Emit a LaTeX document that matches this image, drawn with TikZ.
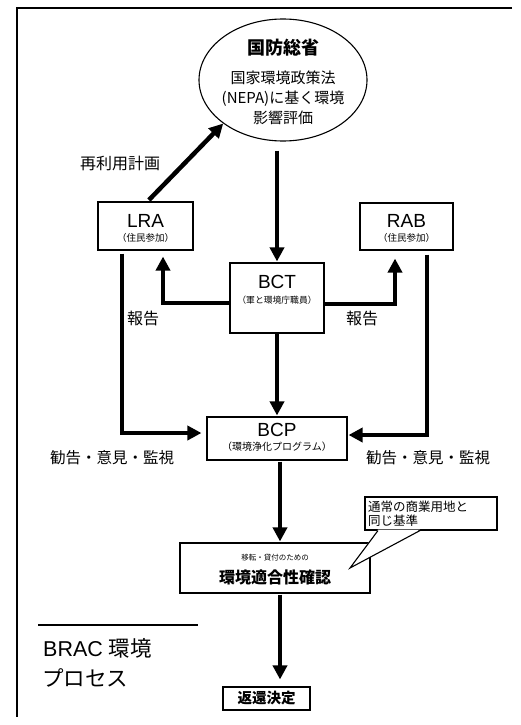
\documentclass[tikz,border=0pt]{standalone}
\usepackage{fontspec}
\setmainfont{Liberation Sans}
\newfontfamily\jp{Noto Sans CJK JP}
\usetikzlibrary{arrows.meta,shapes.geometric}
\tikzset{
  box/.style={draw, line width=1.1pt, inner sep=0pt, align=center},
  arr/.style={line width=4.5pt, -{Triangle[length=14pt,width=14pt]}},
  lbl/.style={font=\jp\fontsize{15.5}{18}\selectfont, inner sep=0pt},
  fsz/.style={font=\fontsize{#1}{#1}\selectfont},
}
\begin{document}
\begin{tikzpicture}[x=1pt,y=-1pt]
\useasboundingbox (0,0) rectangle (520,725);
% frame
\draw[line width=1.2pt] (512,8) -- (17,8) -- (17,717);

% nodes
\node[ellipse, draw, line width=1.1pt, minimum width=168pt, minimum height=122pt, inner sep=0pt] (dod) at (283,80) {};
\node[inner sep=0pt, font=\jp\bfseries\fontsize{18}{18}\selectfont] (dodt) at (283,48) {国防総省};
\node[inner sep=0pt, align=center, font=\jp\fontsize{15}{20}\selectfont] (dodd) at (283,98) {国家環境政策法\\(NEPA)に基く環境\\影響評価};

\node[box, minimum width=95pt, minimum height=48pt] (lra) at (145.5,226) {};
\node[inner sep=0pt, fsz=19] (lrat) at (145.5,221) {LRA};
\node[inner sep=0pt, font=\jp\fontsize{9.5}{9.5}\selectfont] (lras) at (145.5,238) {（住民参加）};

\node[box, minimum width=93pt, minimum height=47pt] (rab) at (406.5,226.5) {};
\node[inner sep=0pt, fsz=19] (rabt) at (406.5,221) {RAB};
\node[inner sep=0pt, font=\jp\fontsize{9.5}{9.5}\selectfont] (rabs) at (406.5,238) {（住民参加）};

\node[box, minimum width=94pt, minimum height=70pt] (bct) at (277,298) {};
\node[inner sep=0pt, fsz=19] (bctt) at (277,282) {BCT};
\node[inner sep=0pt, font=\jp\fontsize{8.8}{8.8}\selectfont] (bcts) at (277,300) {（軍と環境庁職員）};

\node[box, minimum width=140pt, minimum height=43pt] (bcp) at (277,438.5) {};
\node[inner sep=0pt, fsz=19] (bcpt) at (277,430) {BCP};
\node[inner sep=0pt, font=\jp\fontsize{10}{10}\selectfont] (bcps) at (277,447) {（環境浄化プログラム）};

\node[box, minimum width=190pt, minimum height=50pt] (cert) at (275,568) {};
\node[inner sep=0pt, font=\jp\fontsize{7.5}{7.5}\selectfont] (certs) at (275,558) {移転・貸付のための};
\node[inner sep=0pt, font=\jp\bfseries\fontsize{16}{16}\selectfont] (certt) at (275,577) {環境適合性確認};

\node[box, minimum width=87pt, minimum height=23pt, font=\jp\bfseries\fontsize{14.5}{14.5}\selectfont] (ret) at (266.5,698.5) {返還決定};

% callout
\node[box, minimum width=132pt, minimum height=33pt] (call) at (431,513.5) {};
\node[inner sep=0pt, anchor=west, align=left, font=\jp\fontsize{12.5}{14}\selectfont] (callt) at (368,514) {通常の商業用地と\\同じ基準};
\coordinate (tip) at (350,568);
\fill[white] ([xshift=-53pt,yshift=1pt]call.south) -- (tip) -- ([xshift=-11pt,yshift=1pt]call.south) -- cycle;
\draw[line width=1.1pt] ([xshift=-53pt]call.south) -- (tip) -- ([xshift=-11pt]call.south);

% labels
\node[lbl, font=\jp\fontsize{16}{16}\selectfont] (reuse) at (120,163) {再利用計画};
\node[lbl, font=\jp\fontsize{16}{16}\selectfont] (repl) at (143,318) {報告};
\node[lbl, font=\jp\fontsize{16}{16}\selectfont] (repr) at (362,318) {報告};
\node[lbl] (advl) at (112,458) {勧告・意見・監視};
\node[lbl] (advr) at (428,458) {勧告・意見・監視};

% BRAC title
\coordinate (rl) at (38,625);
\coordinate (rr) at (198,625);
\draw[line width=1.3pt] (rl) -- (rr);
\node[inner sep=0pt, anchor=west, fsz=21.5] (brac) at (43,648) {BRAC {\jp 環境}};
\node[inner sep=0pt, anchor=west, font=\jp\fontsize{21.5}{21.5}\selectfont] (proc) at (42,678) {プロセス};

% connectors
\draw[arr, shorten <=9pt, shorten >=1pt] (dod.south -| bct.north) -- (bct.north);
\draw[arr, shorten <=2pt] ([xshift=2pt]lra.north) -- (dod.south west);
\draw[arr, shorten >=6pt] ([yshift=-5pt]bct.west) -| ([xshift=17.5pt]lra.south);
\draw[arr, shorten >=8pt] ([yshift=-6pt]bct.east) -| ([xshift=-11.5pt]rab.south);
\draw[arr, shorten <=3pt, shorten >=5pt] ([xshift=-23.5pt]lra.south) |- ([yshift=5.5pt]bcp.west);
\draw[arr, shorten <=4pt, shorten >=1pt] ([xshift=20.5pt]rab.south) |- ([yshift=3.5pt]bcp.east);
\draw[arr, shorten >=1pt] (bct.south) -- (bcp.north);
\draw[arr, shorten <=1pt, shorten >=1pt] ([xshift=3pt]bcp.south) -- ([xshift=5pt]cert.north);
\draw[arr, shorten <=1pt, shorten >=7pt] ([xshift=5pt]cert.south) -- ([xshift=13.5pt]ret.north);
\end{tikzpicture}
\end{document}
